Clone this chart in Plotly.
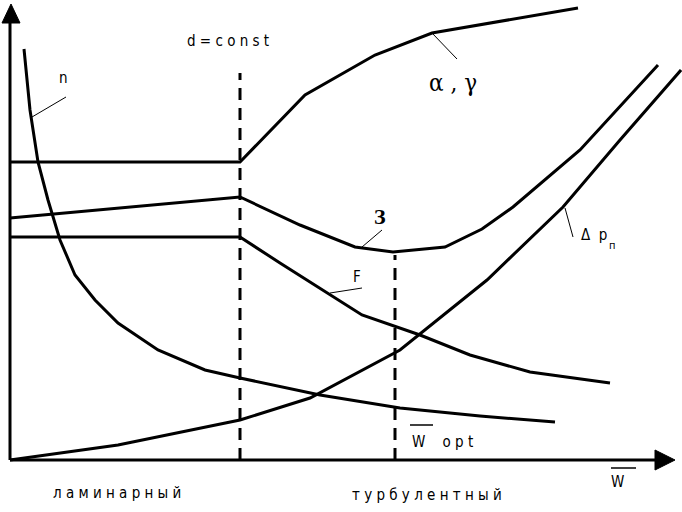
import plotly.graph_objects as go

# ---- data (schematic units: W along x, value along y; origin at axes corner)
n_w = [14, 20, 28, 38, 50, 65, 85, 108, 148, 195, 230, 310, 390, 470, 545]
n_v = [411, 350, 298, 260, 220, 185, 160, 137, 110, 90, 82, 65, 52, 44, 38]

ag_w = [0, 230, 295, 365, 422, 568]
ag_v = [298, 298, 365, 405, 427, 452]

z_w = [0, 230, 290, 345, 383, 435, 472, 503, 570, 648]
z_v = [242, 263, 235, 213, 208, 213, 231, 253, 310, 395]

f_w = [0, 230, 270, 317, 352, 410, 460, 520, 600]
f_v = [223, 223, 197, 167, 145, 125, 105, 88, 77]

dp_w = [0, 108, 230, 300, 390, 477, 553, 610, 671]
dp_v = [0, 15, 40, 62, 110, 180, 253, 320, 390]

w_laminar_limit = 230
w_opt = 385

FONT = "DejaVu Sans Condensed, Liberation Sans Narrow, sans-serif"

fig = go.Figure()

def curve(x, y, w=3):
    fig.add_trace(go.Scatter(x=x, y=y, mode="lines",
                             line=dict(color="black", width=w),
                             hoverinfo="skip", showlegend=False))

for xs, ys in [(n_w, n_v), (ag_w, ag_v), (z_w, z_v), (f_w, f_v), (dp_w, dp_v)]:
    curve(xs, ys)

# dashed verticals
fig.add_trace(go.Scatter(x=[w_laminar_limit, w_laminar_limit], y=[0, 387], mode="lines",
                         line=dict(color="black", width=3, dash="12px,8px"),
                         hoverinfo="skip", showlegend=False))
fig.add_trace(go.Scatter(x=[w_opt, w_opt], y=[0, 205], mode="lines",
                         line=dict(color="black", width=3, dash="12px,8px"),
                         hoverinfo="skip", showlegend=False))

# leader lines
leaders = [((22, 56), (343, 363)), ((422, 447), (427, 401)), ((372, 352), (230, 213)),
           ((320, 352), (167, 172)), ((555, 563), (252, 223))]
for lx, ly in leaders:
    curve(list(lx), list(ly), w=1)

shapes = [
    dict(type="line", x0=0, y0=0, x1=650, y1=0, line=dict(color="black", width=3)),
    dict(type="line", x0=0, y0=0, x1=0, y1=440, line=dict(color="black", width=3)),
    dict(type="path", path="M 665,0 L 645,10 L 645,-10 Z", fillcolor="black",
         line=dict(color="black", width=1)),
    dict(type="path", path="M 1,456 L -8,437 L 10,437 Z", fillcolor="black",
         line=dict(color="black", width=1)),
    # overlines for W
    dict(type="line", x0=400, y0=35, x1=423, y1=35, line=dict(color="black", width=1.5)),
    dict(type="line", x0=601, y0=-8, x1=626, y1=-8, line=dict(color="black", width=1.5)),
]

def label(x, y, text, size=15, family=FONT, xanchor="center", weight="normal"):
    fig.add_annotation(x=x, y=y, text=text, showarrow=False, xanchor=xanchor,
                       font=dict(family=family, size=size, color="black", weight=weight))

label(53, 382, "n")
label(218, 419, "d = c o n s t")
label(443, 377, "α , γ", size=24, family="DejaVu Serif Condensed, Liberation Serif, serif")
label(370, 244, "З", size=22, family="Liberation Serif, serif", weight="bold")
label(347, 183, "F")
label(569, 225, "Δ  p", xanchor="left")
label(602, 215, "п", size=11)
label(400, 18, "W    o p t", xanchor="left")
label(607, -22, "W")
label(107, -33, "л а м и н а р н ы й")
label(417, -35, "т у р б у л е н т н ы й")

fig.update_layout(
    width=682, height=512,
    margin=dict(l=0, r=0, t=0, b=0),
    paper_bgcolor="white", plot_bgcolor="white",
    xaxis=dict(range=[-10, 672], visible=False, fixedrange=True),
    yaxis=dict(range=[-52, 460], visible=False, fixedrange=True),
    shapes=shapes,
    showlegend=False,
)

fig.write_html("out.html", config={"displayModeBar": False, "staticPlot": True},
               post_script="document.body.style.margin='0';document.body.style.overflow='hidden';")
